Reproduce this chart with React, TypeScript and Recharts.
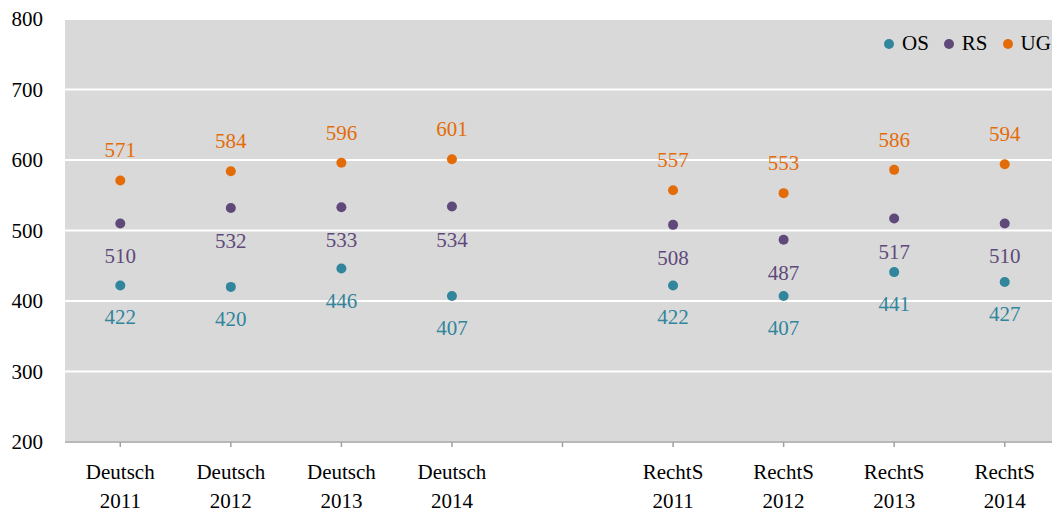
import { ComposedChart, Line, XAxis, YAxis, CartesianGrid } from "recharts";

const subjects = ["Deutsch", "Deutsch", "Deutsch", "Deutsch", "", "RechtS", "RechtS", "RechtS", "RechtS"];
const years = ["2011", "2012", "2013", "2014", "", "2011", "2012", "2013", "2014"];

const os = [422, 420, 446, 407, null, 422, 407, 441, 427];
const rs = [510, 532, 533, 534, null, 508, 487, 517, 510];
const ug = [571, 584, 596, 601, null, 557, 553, 586, 594];

const yTicks = [200, 300, 400, 500, 600, 700, 800];

const series = [
  { key: "OS", values: os, color: "#31859c", labelDy: 32 },
  { key: "RS", values: rs, color: "#5f497a", labelDy: 33 },
  { key: "UG", values: ug, color: "#e36c09", labelDy: -30 },
];

const FONT = "'Liberation Serif', 'DejaVu Serif', serif";

const data = subjects.map((s, i) => ({
  cat: s ? `${s} ${years[i]}` : "gap",
  subject: s,
  year: years[i],
  OS: os[i],
  RS: rs[i],
  UG: ug[i],
}));

const XTick = ({ x, y, index }: any) => {
  const d = data[index];
  if (!d || !d.subject) return null;
  return (
    <text x={x} y={y} textAnchor="middle" fill="#000" fontSize={21} fontFamily={FONT}>
      <tspan x={x} dy={32}>{d.subject}</tspan>
      <tspan x={x} dy={29}>{d.year}</tspan>
    </text>
  );
};

const makeLabel = (color: string, dy: number) => (props: any) => {
  const { x, y, value } = props;
  if (value == null || x == null || y == null) return null;
  return (
    <text
      x={x}
      y={y + dy}
      textAnchor="middle"
      dominantBaseline="central"
      fill={color}
      fontSize={21}
      fontFamily={FONT}
    >
      {value}
    </text>
  );
};

export default function App() {
  return (
    <div
      style={{
        position: "absolute",
        left: 0,
        top: 0,
        width: 1052,
        height: 514,
        overflow: "hidden",
        fontFamily: FONT,
      }}
    >
      {/* plot runs a little past the right edge, as in the original */}
      <ComposedChart width={1060} height={514} data={data} margin={{ top: 19, right: 0, left: 0, bottom: 0 }}>
        <CartesianGrid fill="#d9d9d9" stroke="#fff" strokeWidth={2} vertical={false} />
        <XAxis
          dataKey="cat"
          scale="band"
          height={72}
          interval={0}
          tickSize={5}
          tickMargin={0}
          axisLine={{ stroke: "#a0a0a0", strokeWidth: 1.5 }}
          tickLine={{ stroke: "#a0a0a0", strokeWidth: 1.5 }}
          tick={<XTick />}
        />
        <YAxis
          width={65}
          domain={[200, 800]}
          ticks={yTicks}
          axisLine={false}
          tickLine={false}
          tickSize={0}
          tickMargin={22}
          tick={{ fill: "#000", fontSize: 21, fontFamily: FONT }}
        />
        {series.map((s) => (
          <Line
            key={s.key}
            dataKey={s.key}
            stroke="none"
            isAnimationActive={false}
            dot={{ r: 5, fill: s.color, stroke: "none" }}
            activeDot={false}
            label={makeLabel(s.color, s.labelDy)}
          />
        ))}
      </ComposedChart>
      <div
        style={{
          position: "absolute",
          top: 31,
          left: 884,
          display: "flex",
          alignItems: "center",
          fontSize: 21,
          color: "#000",
          whiteSpace: "nowrap",
        }}
      >
        {series.map((s) => (
          <span key={s.key} style={{ display: "flex", alignItems: "center", marginRight: 15 }}>
            <span
              style={{
                width: 10,
                height: 10,
                borderRadius: 5,
                background: s.color,
                display: "inline-block",
                marginRight: 8,
              }}
            />
            {s.key}
          </span>
        ))}
      </div>
    </div>
  );
}
